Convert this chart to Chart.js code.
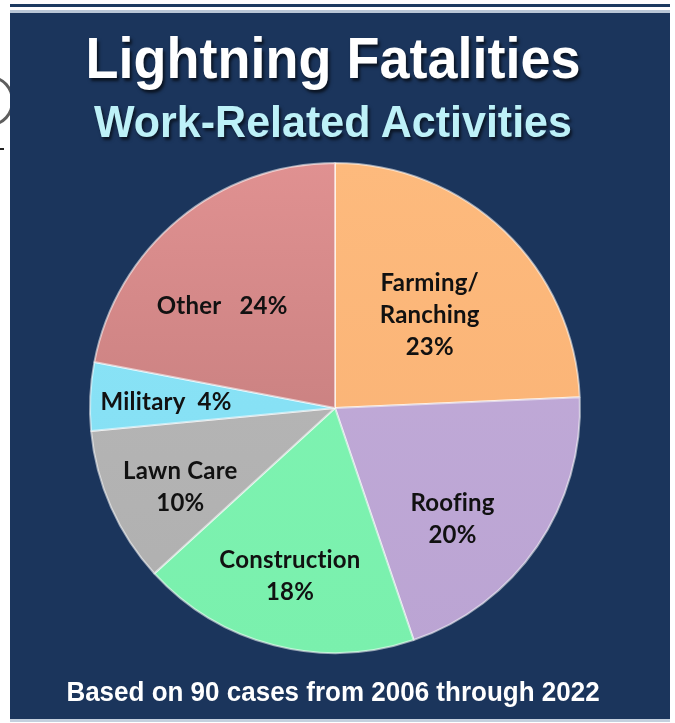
<!DOCTYPE html>
<html>
<head>
<meta charset="utf-8">
<script src="https://cdn.jsdelivr.net/npm/chart.js@4"></script>
<style>
  html, body { margin: 0; padding: 0; background: #ffffff; }
  #page { position: relative; width: 675px; height: 723px; overflow: hidden; background: #ffffff; }
  #topline1 { position: absolute; left: 10px; top: 4px; width: 660px; height: 3px; background: #1d3a60; }
  #topline2 { position: absolute; left: 10px; top: 10px; width: 660px; height: 3px; background: #b9c6d6; }
  #panel { position: absolute; left: 10px; top: 13px; width: 660px; height: 706px; background: #1b355c; }
  #botline { position: absolute; left: 10px; top: 719px; width: 660px; height: 3px; background: #c4d0de; }
  #artifact1 { position: absolute; left: -32px; top: 76px; width: 40px; height: 44px; border-radius: 50%; border: 3px solid #5e5e5e; }
  #artifact2 { position: absolute; left: 0px; top: 148px; width: 4px; height: 2px; background: #222; }
  .txt { position: absolute; left: 0; width: 666px; text-align: center; font-family: "Liberation Sans", Arial, sans-serif; font-weight: bold; line-height: 1; white-space: nowrap; }
  #title { top: 31px; font-size: 54px; color: #ffffff; text-shadow: 2px 3px 3px rgba(0,0,0,0.65); transform: scaleY(1.05); }
  #subtitle { top: 100px; font-size: 43px; color: #bdf1f8; text-shadow: 2px 3px 3px rgba(0,0,0,0.6); transform: scaleY(1.05); }
  #footer { top: 679px; font-size: 26px; color: #ffffff; transform: scaleY(1.05); }
  #chartbox { position: absolute; left: 0; top: 0; width: 675px; height: 723px; }
</style>
</head>
<body>
<div id="page">
  <div id="artifact1"></div>
  <div id="artifact2"></div>
  <div id="topline1"></div>
  <div id="topline2"></div>
  <div id="panel"></div>
  <div id="botline"></div>
  <div id="chartbox"><canvas id="c" width="675" height="723"></canvas></div>
  <div class="txt" id="title">Lightning Fatalities</div>
  <div class="txt" id="subtitle">Work-Related Activities</div>
  <div class="txt" id="footer">Based on 90 cases from 2006 through 2022</div>
</div>
<script>
// ---- data ----
const categories = ['Farming/Ranching', 'Roofing', 'Construction', 'Lawn Care', 'Military', 'Other'];
const shares = [24.3, 20.5, 18.4, 10.3, 4.5, 22.0];          // slice sizes as drawn
const pctLabels = ['23%', '20%', '18%', '10%', '4%', '24%'];   // printed percentages

// ---- styles ----
const sliceColors = ['#fdba7d', '#c2acd9', '#80f5b4', '#b9b9b9', '#8ce5f8', '#e09191'];
const sliceDark   = ['#f9b072', '#bba4d3', '#7af0ad', '#afafaf', '#82ddf2', '#b87474'];
const labelLines = [
  ['Farming/', 'Ranching', pctLabels[0]],
  [categories[1], pctLabels[1]],
  [categories[2], pctLabels[2]],
  [categories[3], pctLabels[3]],
  [categories[4] + '  ' + pctLabels[4]],
  [categories[5] + '   ' + pctLabels[5]]
];
const labelRadius = [0.54, 0.66, 0.71, 0.71, 0.69, 0.62];
const labelAngleShift = [2, 9, 0.6, -3.3, -0.7, -8.4]; // degrees

const labelPlugin = {
  id: 'sliceLabels',
  afterDatasetsDraw(chart) {
    const ctx = chart.ctx;
    const meta = chart.getDatasetMeta(0);
    ctx.save();
    ctx.font = 'bold 24px Lato, "Open Sans", sans-serif';
    if ('letterSpacing' in ctx) ctx.letterSpacing = '0.2px';
    ctx.fillStyle = '#111111';
    ctx.textAlign = 'center';
    ctx.textBaseline = 'middle';
    const lh = 32;
    meta.data.forEach((arc, i) => {
      const p = arc.getProps(['x', 'y', 'startAngle', 'endAngle', 'outerRadius'], true);
      const mid = (p.startAngle + p.endAngle) / 2 + labelAngleShift[i] * Math.PI / 180;
      const r = p.outerRadius * labelRadius[i];
      const cx = p.x + Math.cos(mid) * r;
      const cy = p.y + Math.sin(mid) * r;
      const lines = labelLines[i];
      const y0 = cy - (lines.length - 1) * lh / 2;
      lines.forEach((t, k) => ctx.fillText(t, cx, y0 + k * lh));
    });
    ctx.restore();
  }
};

function sliceFill(context) {
  const chart = context.chart;
  const area = chart.chartArea;
  const i = context.dataIndex;
  if (!area) return sliceColors[i];
  const g = chart.ctx.createLinearGradient(0, area.top, 0, area.bottom);
  g.addColorStop(0, sliceColors[i]);
  g.addColorStop(1, sliceDark[i]);
  return g;
}

new Chart(document.getElementById('c'), {
  type: 'pie',
  data: {
    labels: categories,
    datasets: [{
      data: shares,
      backgroundColor: sliceFill,
      borderColor: 'rgba(255,255,255,0.55)',
      borderWidth: 2
    }]
  },
  options: {
    responsive: false,
    animation: false,
    layout: { padding: { left: 89, right: 94, top: 162, bottom: 69 } },
    plugins: {
      legend: { display: false },
      tooltip: { enabled: false },
      title: { display: false }
    }
  },
  plugins: [labelPlugin]
});
</script>
</body>
</html>
